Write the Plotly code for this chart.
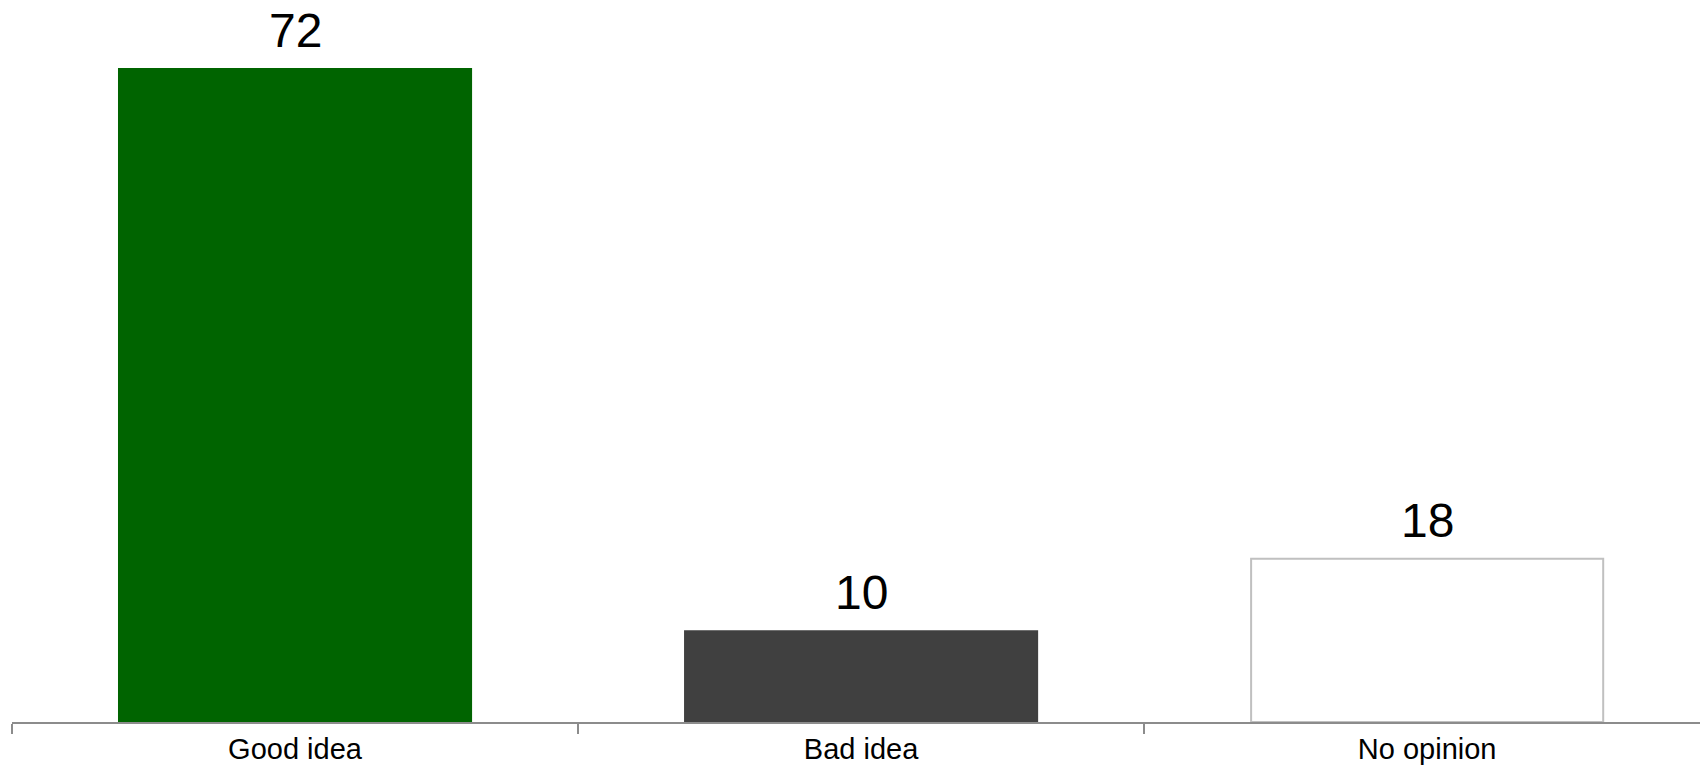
import plotly.graph_objects as go

categories = ["Good idea", "Bad idea", "No opinion"]
values = [72, 10, 18]
fill_colors = ["#006400", "#404040", "#ffffff"]
line_colors = ["#006400", "#404040", "#c0c0c0"]

fig = go.Figure()
fig.add_trace(go.Bar(
    x=categories,
    y=values,
    width=0.622,
    marker=dict(color=fill_colors, line=dict(color=line_colors, width=2)),
    hoverinfo="x+y",
))

for c, v in zip(categories, values):
    fig.add_annotation(
        x=c, y=v, text=str(v), showarrow=False,
        xanchor="center", yanchor="bottom", yshift=10,
        font=dict(family="Liberation Sans, Arial, sans-serif", size=48, color="#000000"),
    )

fig.update_layout(
    width=1700,
    height=765,
    margin=dict(l=12, r=0, t=0, b=41),
    paper_bgcolor="#ffffff",
    plot_bgcolor="#ffffff",
    showlegend=False,
    xaxis=dict(
        range=[-0.5, 2.482],
        showline=True,
        linecolor="#8c8c8c",
        linewidth=2,
        ticks="outside",
        tickson="boundaries",
        ticklen=10,
        tickwidth=2,
        tickcolor="#8c8c8c",
        tickfont=dict(family="Liberation Sans, Arial, sans-serif", size=29, color="#000000"),
        showgrid=False,
        zeroline=False,
    ),
    yaxis=dict(
        range=[0, 79.6],
        visible=False,
        showgrid=False,
        zeroline=False,
    ),
)

fig.write_html(
    "out.html",
    config={"displayModeBar": False},
    post_script="document.body.style.margin='0';document.body.style.overflow='hidden';",
)
